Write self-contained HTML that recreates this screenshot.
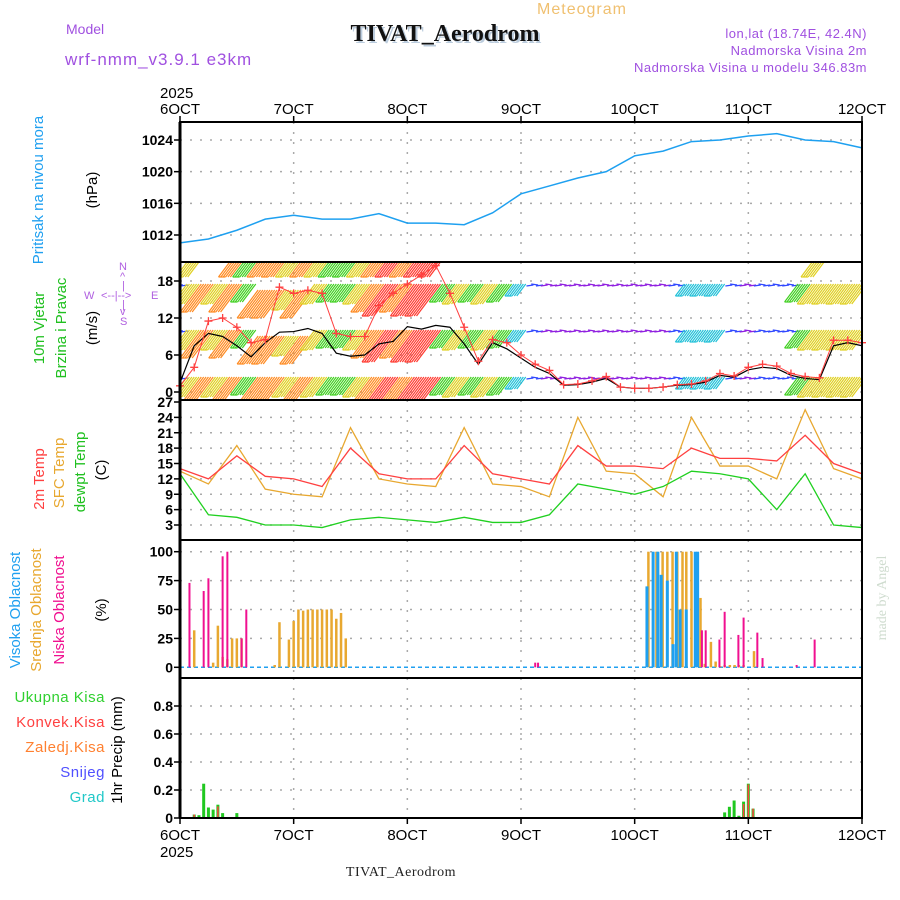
<!DOCTYPE html>
<html><head><meta charset="utf-8"><style>
html,body{margin:0;padding:0;background:#fff}
svg{display:block}
text{font-family:"Liberation Sans",sans-serif}
text.serif{font-family:"Liberation Serif",serif}
.tk{font-weight:bold;font-size:14px;fill:#000}
</style></head><body>
<svg id="c" width="900" height="900" viewBox="0 0 900 900" xmlns="http://www.w3.org/2000/svg">
<defs><clipPath id="windclip"><rect x="180" y="262" width="682" height="138"/></clipPath></defs>
<text x="582" y="14" font-size="16" fill="#f0c070" text-anchor="middle" letter-spacing="1">Meteogram</text>
<text class="serif" x="447" y="43" font-size="24" font-weight="bold" fill="#bcd" text-anchor="middle">TIVAT_Aerodrom</text>
<text class="serif" x="445" y="41" font-size="24" font-weight="bold" fill="#111" text-anchor="middle">TIVAT_Aerodrom</text>
<text x="66" y="34" font-size="14" fill="#a050e0">Model</text>
<text x="65" y="65" font-size="17" fill="#a050e0" letter-spacing="1">wrf-nmm_v3.9.1 e3km</text>
<text x="867" y="38" font-size="13" fill="#a050e0" text-anchor="end" letter-spacing="0.5">lon,lat (18.74E, 42.4N)</text>
<text x="867" y="55" font-size="13" fill="#a050e0" text-anchor="end" letter-spacing="0.5">Nadmorska Visina 2m</text>
<text x="867" y="72" font-size="13" fill="#a050e0" text-anchor="end" letter-spacing="0.5">Nadmorska Visina u modelu 346.83m</text>
<text x="160" y="98" font-size="15" fill="#000">2025</text>
<text x="160" y="857" font-size="15" fill="#000">2025</text>
<text class="serif" x="401" y="876" font-size="14" fill="#222" text-anchor="middle" letter-spacing="0.5">TIVAT_Aerodrom</text>
<text class="serif" transform="translate(886,598) rotate(-90)" font-size="14" fill="#cfdccf" text-anchor="middle">made by Angel</text>
<g font-size="15" text-anchor="middle">
<text transform="translate(43,190) rotate(-90)" fill="#20a0f0">Pritisak na nivou mora</text>
<text transform="translate(97,190) rotate(-90)" fill="#000">(hPa)</text>
<text transform="translate(44,328) rotate(-90)" fill="#20c020">10m Vjetar</text>
<text transform="translate(66,328) rotate(-90)" fill="#20c020">Brzina i Pravac</text>
<text transform="translate(97,328) rotate(-90)" fill="#000">(m/s)</text>
<text transform="translate(44,479) rotate(-90)" fill="#ff4040">2m Temp</text>
<text transform="translate(64,473) rotate(-90)" fill="#e8a830">SFC Temp</text>
<text transform="translate(85,472) rotate(-90)" fill="#20c020">dewpt Temp</text>
<text transform="translate(106,470) rotate(-90)" fill="#000">(C)</text>
<text transform="translate(20,610) rotate(-90)" fill="#20a0f0">Visoka Oblacnost</text>
<text transform="translate(41,610) rotate(-90)" fill="#e8a830">Srednja Oblacnost</text>
<text transform="translate(64,610) rotate(-90)" fill="#f01090">Niska Oblacnost</text>
<text transform="translate(106,610) rotate(-90)" fill="#000">(%)</text>
<text transform="translate(122,750) rotate(-90)" fill="#000">1hr Precip (mm)</text>
</g>
<g font-size="15" text-anchor="end" letter-spacing="0.5">
<text x="105" y="702" fill="#30d030">Ukupna  Kisa</text>
<text x="105" y="727" fill="#ff4040">Konvek.Kisa</text>
<text x="105" y="752" fill="#ff8030">Zaledj.Kisa</text>
<text x="105" y="777" fill="#5050ff">Snijeg</text>
<text x="105" y="802" fill="#20c8c8">Grad</text>
</g>
<g fill="#b060e0" font-size="11">
<text x="119" y="270">N</text><text x="120" y="280">^</text><text x="122" y="289">|</text>
<text x="84" y="299">W</text><text x="101" y="299">&lt;--|--&gt;</text><text x="151" y="299">E</text>
<text x="122" y="308">|</text><text x="120" y="315">v</text><text x="120" y="325">S</text>
</g>
<g id="plot"></g>
</svg>
<script>
// ---- data ----
const dayLabels=["6OCT","7OCT","8OCT","9OCT","10OCT","11OCT","12OCT"];
const pressTicks=[1012,1016,1020,1024];
const windTicks=[0,6,12,18];
const tempTicks=[3,6,9,12,15,18,21,24,27];
const cloudTicks=[0,25,50,75,100];
const precipTicks=[0,0.2,0.4,0.6,0.8];
// pressure every 6h
const pressure=[1011,1011.5,1012.6,1014.0,1014.5,1014,1014,1014.7,1013.5,1013.5,1013.3,1014.8,1017.2,1018.2,1019.2,1020,1022,1022.6,1023.8,1024,1024.5,1024.8,1024,1023.8,1023];
// temperatures every 6h
const temp2m=[14,12,16.5,12.5,12,10.5,18,13,12,12,18.5,13,12,11,18.5,14.5,14.5,14,18,16,16,15.5,20.5,15,13];
const tempSfc=[13.5,11,18.5,10,9,8.5,22,12,11,10.5,22,11,10.5,8.5,24,13.5,13,8.5,24,14.5,14.5,12,25.5,14,12];
const dewpt=[13,5,4.5,3,3,2.5,4,4.5,4,3.5,4.5,3.5,3.5,5,11,10,9,10.5,13.5,13,12,6,13,3,2.5];
// wind every 3h
const windSpeed=[1.5,7.5,9.5,9,7.5,5.7,8,9.7,9.8,10.3,9.5,6.3,5.8,6,7.8,8.2,10.6,10.2,10.8,10.5,7.8,4.5,8,7,5.5,4,3,1.1,1.2,1.6,2.2,0.8,0.6,0.6,0.8,1.1,1.2,1.6,2.7,2.4,3.6,4,3.8,2.7,2.2,2,7.5,8,7.5];
const windGust=[1,4,11.5,12,10.5,8,8.5,17,16,16.5,16,9.5,9,9,14,16,17.5,19,20.5,16,10.5,5,8.5,8,6,4.5,3.5,1.2,1.3,1.8,2.5,0.8,0.6,0.6,0.8,1.2,1.3,1.8,3,2.6,4,4.5,4.2,3,2.5,2.3,8.4,8.4,8];
const windDirClass=["B","Y","O","Y","O","G","O","O","Y","O","Y","G","G","Y","O","R","O","R","R","G","Y","G","Y","G","C","B","P","P","P","P","P","P","P","P","P","B","C","C","C","B","P","B","B","B","G","Y","Y","Y","Y"];
const barbSize=[3,10,14,10,14,9,14,14,10,14,10,9,9,10,14,16,14,16,16,9,10,9,10,9,6,3,2,2,2,2,2,2,2,2,2,3,6,6,6,3,2,3,3,3,9,10,10,10,10];
// cloud cover hourly (hour index, percent)
const highHours=[98.7,100,101,101.7,103,104.2,104.9,105.7,107,108.9,109.4];
const highVals=[70,100,100,80,75,20,100,50,50,100,100];
const midHours=[3,7,8,9,10,11,12,13,20,21,23,24,25,26,27,28,29,30,31,32,33,34,35,98.9,100.6,101.9,102.9,104,105,106.1,106.9,108,109.9,110.8,112.1,113.1,114.1,115,116.1,117.1,118,119,121.2];
const midVals=[32,4,36,9,7,25,25,25,2,39,24,40,50,49,50,50,50,50,50,50,42,47,25,100,100,100,100,100,100,100,100,100,60,3,22,5,1,2,2,2,2,2,14];
const lowHours=[2,5,6,9,10,13,14,75,75.6,110.2,111,113.9,115,117.9,119,121.9,123,130.2,134];
const lowVals=[73,66,77,96,100,25,50,4,4,32,32,24,48,28,43,30,8,2,24];
// precip hourly
const rainHours=[3,4,5,6,7,8,9,12,115,116,117,118,119,120,121];
const rainTotal=[0.025,0.02,0.245,0.075,0.06,0.095,0.035,0.035,0.04,0.08,0.125,0.016,0.117,0.245,0.067];
const convHours=[3,8,9,119,120,121];
const convVals=[0.025,0.083,0.005,0.1,0.24,0.067];

// ---- axes ----
const X0=180,X1=862,PXD=(X1-X0)/6;
const xHour=h=>X0+h*PXD/24;
const yP=p=>235-(p-1012)*95/12;
const yW=v=>392-v*37/6;
const yT=t=>525-(t-3)*123/24;
const yC=c=>667.3-c*1.156;
const yR=v=>818-v*140;
const NS='http://www.w3.org/2000/svg';
const plot=document.getElementById('plot');
function mk(tag,attrs,parent){const e=document.createElementNS(NS,tag);for(const k in attrs)e.setAttribute(k,attrs[k]);(parent||plot).appendChild(e);return e;}
const panels=[[122,262],[262,400],[400,540],[540,678],[678,818]];
// grids
const grid=mk('g',{stroke:'#aaa','stroke-width':1.5,'stroke-dasharray':'2,8'});


panels.forEach(([a,b])=>{for(let d=1;d<6;d++)mk('line',{x1:X0+d*PXD,x2:X0+d*PXD,y1:a,y2:b},grid);});
function hgrid(ticks,fy){ticks.forEach(t=>{const y=fy(t);mk('line',{x1:X0,x2:X1,y1:y,y2:y},grid);});}
hgrid(pressTicks,yP);hgrid(windTicks,yW);hgrid(tempTicks.slice(0,-1),yT);hgrid(cloudTicks.slice(1),yC);hgrid(precipTicks.slice(1),yR);
// tick labels
function ylabels(ticks,fy,name,fmt){const g=mk('g',{});
ticks.forEach(t=>{const y=fy(t);const tx=mk('text',{x:173,y:y+5,'text-anchor':'end',class:'tk'},g);tx.textContent=fmt?fmt(t):t;mk('line',{x1:174,x2:180,y1:y,y2:y,stroke:'#000','stroke-width':1.5},g);});}
ylabels(pressTicks,yP,'pressure-y-axis');ylabels(windTicks,yW,'wind-y-axis');ylabels(tempTicks,yT,'temp-y-axis');ylabels(cloudTicks,yC,'cloud-y-axis');ylabels(precipTicks,yR,'precip-y-axis',t=>t==0?'0':t.toFixed(1));
const xa=mk('g',{});
dayLabels.forEach((l,i)=>{const x=X0+i*PXD;let t=mk('text',{x:x,y:114,'text-anchor':'middle','font-size':15},xa);t.textContent=l;t=mk('text',{x:x,y:840,'text-anchor':'middle','font-size':15},xa);t.textContent=l;
mk('line',{x1:x,x2:x,y1:116,y2:122,stroke:'#000','stroke-width':1.5},xa);mk('line',{x1:x,x2:x,y1:818,y2:824,stroke:'#000','stroke-width':1.5},xa);});
// ---- pressure ----
const pl=mk('polyline',{fill:'none',stroke:'#1ea0f0','stroke-width':1.5,points:pressure.map((p,i)=>xHour(i*6)+','+yP(p)).join(' ')});

// ---- wind barbs ----
const colMap={B:'#3048ff',Y:'#e0d020',O:'#ff8a20',R:'#ff3a30',G:'#40d020',C:'#20c0d8',P:'#9020e0'};
const rowTops=[262,284,330,377];
const wb=mk('g',{'stroke-width':1.2,'clip-path':'url(#windclip)'});
rowTops.forEach((top0,r)=>{windDirClass.forEach((c,i)=>{
 if(r===0 && !((i>=4&&i<=18)||i===1||i===45))return;
 let top=top0;
 const col=colMap[c];let h=barbSize[i]*2;if(r===0)h=Math.min(h,15);if(r===2&&i>=6&&i<=9)top=336;if(r===1&&i>=6&&i<=9)top=290;
 for(let s=-3;s<=2;s++){const x=xHour(i*3+s*0.5);
  if(barbSize[i]<=3){if(s%2)continue;mk('line',{x1:x-4,y1:top+(s&2?2:0),x2:x+3,y2:top+1,stroke:col},wb);}
  else{mk('line',{x1:x,y1:top,x2:x-h*0.75,y2:top+h,stroke:col},wb);
   if(s===-3)mk('line',{x1:x-h*0.75,y1:top+h,x2:x-h*0.75+7,y2:top+h,stroke:col},wb);}
 }
});});
// speed & gust
const wl=mk('polyline',{fill:'none',stroke:'#000','stroke-width':1.2,points:windSpeed.map((v,i)=>xHour(i*3)+','+yW(v)).join(' ')});

const gl=mk('polyline',{fill:'none',stroke:'#ff4040','stroke-width':1,points:windGust.map((v,i)=>xHour(i*3)+','+yW(v)).join(' ')});

const gm=mk('g',{stroke:'#ff4040','stroke-width':1.3});
windGust.forEach((v,i)=>{const x=xHour(i*3),y=yW(v);mk('path',{d:`M${x-4},${y}h8M${x},${y-4}v8`},gm);});
// ---- temperature ----
[[tempSfc,'#e8a830','sfc-temp-line'],[temp2m,'#ff4040','temp-2m-line'],[dewpt,'#20d020','dewpoint-line']].forEach(([arr,c,n])=>{
 const l=mk('polyline',{fill:'none',stroke:c,'stroke-width':1.3,points:arr.map((v,i)=>xHour(i*6)+','+yT(v)).join(' ')});
 });
// ---- clouds ----
mk('line',{x1:X0,x2:X1,y1:yC(0),y2:yC(0),stroke:'#20a0f0','stroke-width':1.5,'stroke-dasharray':'4,3'});
function bars(hours,vals,fy,col,w,off,name){const g=mk('g',{fill:col});
 hours.forEach((h,i)=>{const x=xHour(h)+off,y=fy(vals[i]);const r=mk('rect',{x:x-w/2,y:y,width:w,height:fy(0)-y},g);
 });}
bars(midHours,midVals,yC,'#e8a830',2.5,0,'mid-cloud');
bars(highHours,highVals,yC,'#1ea0f0',3,-0.5,'high-cloud');
bars(lowHours,lowVals,yC,'#f01090',2,0,'low-cloud');
// ---- precip ----
bars(rainHours,rainTotal,yR,'#20c820',3,0,'total-rain');
bars(convHours,convVals,yR,'#ff4040',1.5,0,'convective-rain');
// frames
const fr=mk('g',{stroke:'#000',fill:'none','stroke-width':2});
panels.forEach(([a,b])=>mk('rect',{x:X0,y:a,width:X1-X0,height:b-a},fr));
mk('line',{x1:X0,x2:X0,y1:122,y2:818,'stroke-width':3},fr);
</script>
</body></html>
